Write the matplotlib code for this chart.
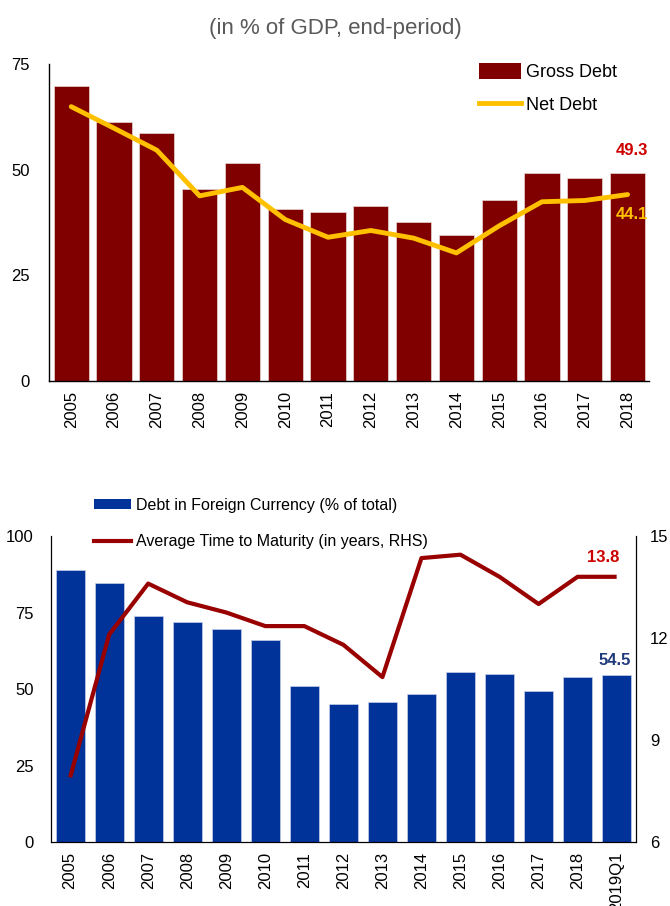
import matplotlib
matplotlib.use("Agg")
import matplotlib.pyplot as plt
import numpy as np
from matplotlib.patches import Patch
from matplotlib.lines import Line2D

plt.rcParams['font.family'] = ['Liberation Sans', 'DejaVu Sans']
FS = 12

# ---- data: top chart ----
years_top = ['2005', '2006', '2007', '2008', '2009', '2010', '2011',
             '2012', '2013', '2014', '2015', '2016', '2017', '2018']
gross_debt = [69.7, 61.3, 58.7, 45.5, 51.6, 40.6, 39.9,
              41.3, 37.6, 34.5, 42.9, 49.3, 48.1, 49.3]
net_debt = [64.9, 59.8, 54.6, 43.8, 45.8, 38.2, 34.0,
            35.6, 33.8, 30.3, 36.7, 42.4, 42.7, 44.1]
top_yticks = [0, 25, 50, 75]

# ---- data: bottom chart ----
years_bot = ['2005', '2006', '2007', '2008', '2009', '2010', '2011',
             '2012', '2013', '2014', '2015', '2016', '2017', '2018', '2019Q1']
fx_share = [88.8, 84.8, 73.9, 72.0, 69.5, 66.1, 50.9,
            45.0, 45.9, 48.4, 55.4, 54.8, 49.4, 53.8, 54.5]
maturity = [7.9, 12.1, 13.6, 13.05, 12.75, 12.35, 12.35,
            11.8, 10.85, 14.35, 14.45, 13.8, 13.0, 13.8, 13.8]
bot_yticks = [0, 25, 50, 75, 100]
rhs_yticks = [6, 9, 12, 15]

fig = plt.figure(figsize=(6.70, 9.06), dpi=100)

fig.text(0.5, 0.969, '(in % of GDP, end-period)', ha='center', va='center',
         fontsize=16, color='#595959')

# ---------- top ----------
ax1 = fig.add_axes([0.0731, 0.5795, 0.8955, 0.3499])
x1 = np.arange(len(years_top))
ax1.bar(x1, gross_debt, width=0.82, color='#800000', edgecolor='#e8d8d8',
        linewidth=0.5, zorder=2)
ax1.plot(x1, net_debt, color='#FFC000', linewidth=3.5, zorder=3,
         solid_capstyle='round', solid_joinstyle='round')
ax1.set_xlim(-0.52, 13.5)
ax1.set_ylim(0, 75)
ax1.set_yticks(top_yticks)
ax1.set_xticks(x1)
ax1.set_xticklabels(years_top, rotation=90)
ax1.tick_params(axis='both', length=0, labelsize=FS, pad=7)
ax1.tick_params(axis='y', pad=14)
for s in ['top', 'right']:
    ax1.spines[s].set_visible(False)
for s in ['left', 'bottom']:
    ax1.spines[s].set_linewidth(1.0)
ax1.text(x1[-1] + 0.1, gross_debt[-1] + 3.5, f'{gross_debt[-1]:.1f}',
         ha='center', va='bottom', color='#CC0000', fontsize=FS,
         fontweight='bold')
ax1.text(x1[-1] + 0.1, net_debt[-1] - 3.0, f'{net_debt[-1]:.1f}',
         ha='center', va='top', color='#FFC000', fontsize=FS,
         fontweight='bold')
h1 = [Patch(facecolor='#800000', edgecolor='none'),
      Line2D([0], [0], color='#FFC000', linewidth=3.5)]
ax1.legend(h1, ['Gross Debt', 'Net Debt'], loc='upper left',
           bbox_to_anchor=(0.69, 1.055), frameon=False, fontsize=FS + 1,
           handlelength=2.3, handleheight=1.0, handletextpad=0.3,
           labelspacing=0.8)

# ---------- bottom ----------
ax2 = fig.add_axes([0.0755, 0.0706, 0.874, 0.3378])
x2 = np.arange(len(years_bot))
ax2.bar(x2, fx_share, width=0.745, color='#003399', edgecolor='#c8d0e8',
        linewidth=0.5, zorder=2)
ax2.set_xlim(-0.5, 14.5)
ax2.set_ylim(0, 100)
ax2.set_yticks(bot_yticks)
ax2.set_xticks(x2)
ax2.set_xticklabels(years_bot, rotation=90)
ax2.tick_params(axis='both', length=0, labelsize=FS, pad=7)
ax2.tick_params(axis='y', pad=12)
ax2.spines['top'].set_visible(False)

ax3 = ax2.twinx()
ax3.plot(x2, maturity, color='#990000', linewidth=3.0, zorder=3,
         solid_capstyle='butt')
ax3.set_ylim(6, 15)
ax3.set_yticks(rhs_yticks)
ax3.tick_params(axis='y', length=0, labelsize=FS, pad=10)
ax3.spines['top'].set_visible(False)
ax3.text(x2[-1] - 0.35, maturity[-1] + 0.35, f'{maturity[-1]:.1f}',
         ha='center', va='bottom', color='#CC0000', fontsize=FS,
         fontweight='bold')
ax2.text(x2[-1] - 0.05, fx_share[-1] + 2.5, f'{fx_share[-1]:.1f}',
         ha='center', va='bottom', color='#1F3A7A', fontsize=FS,
         fontweight='bold')
h2 = [Patch(facecolor='#003399', edgecolor='none'),
      Line2D([0], [0], color='#990000', linewidth=3.0)]
ax3.legend(h2, ['Debt in Foreign Currency (% of total)',
                'Average Time to Maturity (in years, RHS)'],
           loc='lower left', bbox_to_anchor=(0.05, 0.91), frameon=False,
           fontsize=FS - 0.5, handlelength=2.3, handleheight=0.6,
           handletextpad=0.3, labelspacing=1.35)

fig.savefig('out.png', dpi=100)
